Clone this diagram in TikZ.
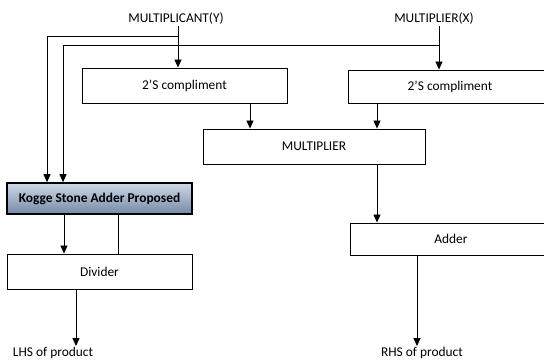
\documentclass[tikz,border=0pt]{standalone}
\usepackage{fontspec}
\setmainfont{Carlito}
\usepackage{tikz}
\usetikzlibrary{arrows.meta,positioning,calc}
\usepackage{xcolor}
\definecolor{kstop}{RGB}{205,216,230}
\definecolor{ksbot}{RGB}{118,138,166}

\begin{document}
\begin{tikzpicture}[x=1pt, y=-1pt,
    font=\fontsize{13.4}{15}\selectfont,
    blk/.style={draw, line width=0.9pt, inner sep=0pt},
    ksblk/.style={draw, line width=1.6pt, inner sep=0pt, top color=kstop, bottom color=ksbot, font=\fontsize{13.4}{15}\selectfont\bfseries},
    lbl/.style={inner sep=1pt},
    arr/.style={line width=0.9pt, -{Triangle[length=8pt,width=7pt]}},
    ln/.style={line width=0.9pt}]
\useasboundingbox (0,0) rectangle (544,363);
    % inputs
    \node[lbl] (my) at (176,19) {MULTIPLICANT(Y)};
    \node[lbl] (mx) at (434,19) {MULTIPLIER(X)};
    % blocks
    \node[blk, minimum width=205pt, minimum height=35pt] (cl) at (184.5,85.5) {2'S compliment};
    \node[blk, minimum width=204pt, minimum height=33pt] (cr) at (450,86.5) {2'S compliment};
    \node[blk, minimum width=222pt, minimum height=35pt] (mul) at (314,146.5) {MULTIPLIER};
    \node[blk, minimum width=202pt, minimum height=32pt] (add) at (451,239) {Adder};
    \node[ksblk, minimum width=185pt, minimum height=31pt] (ks) at (99.5,198.5) {Kogge Stone Adder Proposed};
    \node[blk, minimum width=185pt, minimum height=35pt] (div) at (99.5,271.5) {Divider};
    % outputs
    \node[lbl] (lhs) at (53,353) {LHS of product};
    \node[lbl] (rhs) at (422,353) {RHS of product};
    % branch points
    \coordinate (jy) at (178,36);
    \coordinate (jx) at (439,45);
    \coordinate (ya) at (47,36);
    \coordinate (xa) at (63,45);
    % connectors
    \draw[arr] (jy |- my.south) -- (jy |- cl.north);
    \draw[arr] (jx |- mx.south) -- (jx |- cr.north);
    \draw[arr] (jy) -- (ya) -- (ya |- ks.north);
    \draw[arr] (jx) -- (xa) -- (xa |- ks.north);
    \draw[arr] ([xshift=65.5pt]cl.south) -- ([xshift=65.5pt]cl.south |- mul.north);
    \draw[arr] ([xshift=-73pt]cr.south) -- ([xshift=-73pt]cr.south |- mul.north);
    \draw[arr] ([xshift=63pt]mul.south) -- ([xshift=63pt]mul.south |- add.north);
    \draw[arr] ([xshift=-34pt]add.south) -- ([xshift=-34pt]add.south |- rhs.north);
    \draw[arr] ([xshift=-35.5pt]ks.south) -- ([xshift=-35.5pt]ks.south |- div.north);
    \draw[ln] ([xshift=18.5pt]ks.south) -- ([xshift=18.5pt]ks.south |- div.north);
    \draw[arr] ([xshift=-23.5pt]div.south) -- ([xshift=-23.5pt]div.south |- lhs.north);
\end{tikzpicture}
\end{document}
